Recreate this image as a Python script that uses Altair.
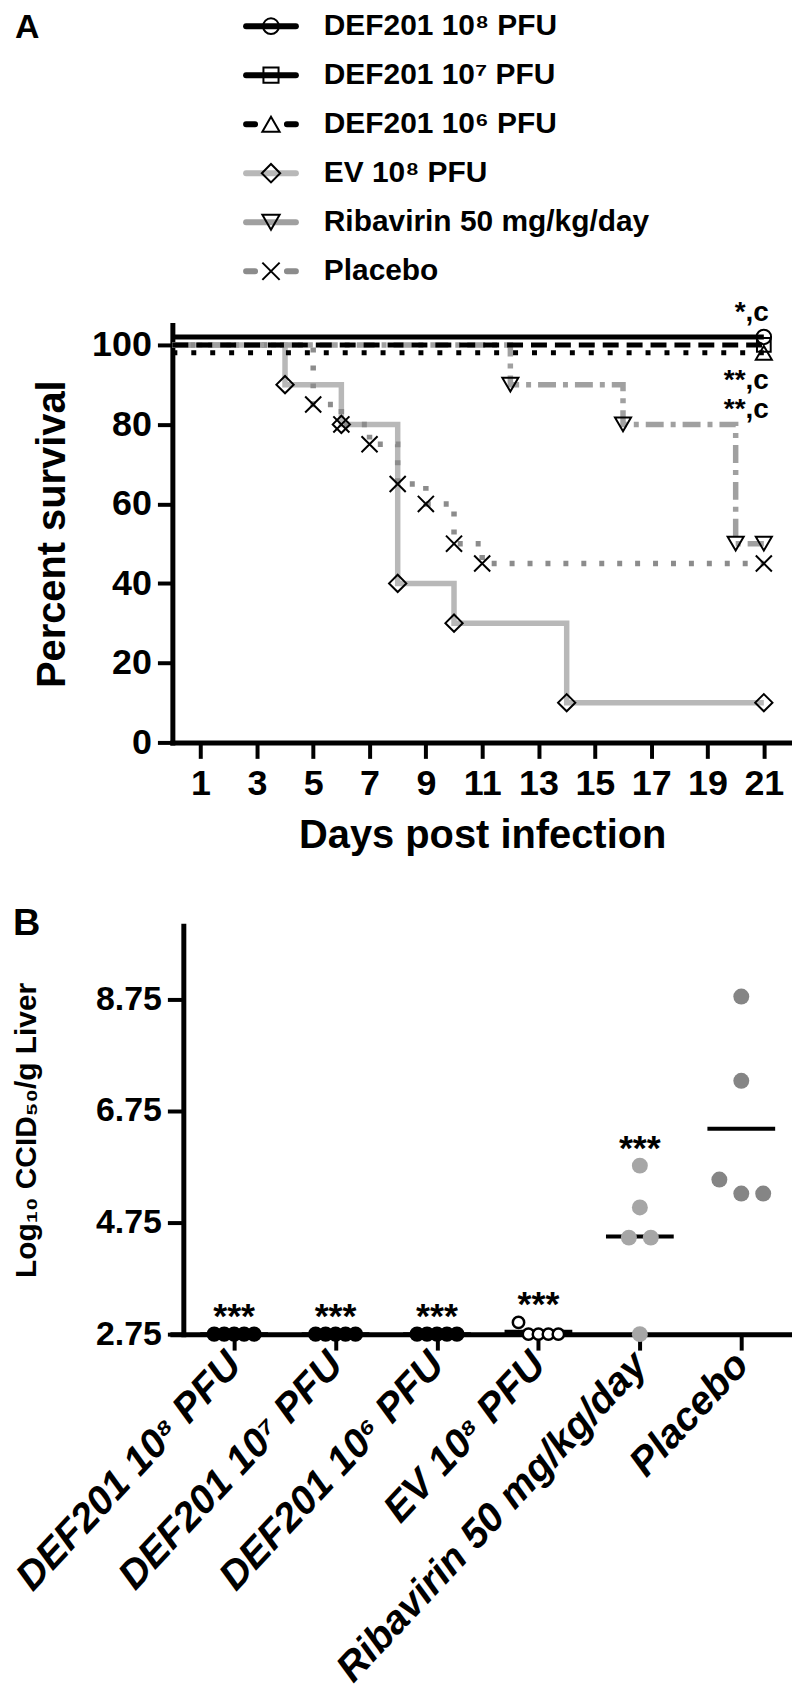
import altair as alt
import pandas as pd

FONT = "Liberation Sans, Arial, DejaVu Sans, sans-serif"

# ---------------- data: panel A (survival) ----------------
series_names = ["DEF201 10⁸ PFU", "DEF201 10⁷ PFU", "DEF201 10⁶ PFU",
                "EV 10⁸ PFU", "Ribavirin 50 mg/kg/day", "Placebo"]
def8_days = [0, 21]
def8_surv = [100, 100]
def7_days = [0, 21]
def7_surv = [100, 100]
def6_days = [0, 21]
def6_surv = [100, 100]
ev_days = [0, 4, 6, 8, 10, 14, 21]
ev_surv = [100, 90, 80, 40, 30, 10, 10]
rib_days = [0, 12, 16, 20, 21]
rib_surv = [100, 90, 80, 50, 50]
pla_days = [0, 5, 6, 7, 8, 9, 10, 11, 21]
pla_surv = [100, 85, 80, 75, 65, 60, 50, 45, 45]
day_ticks = [1, 3, 5, 7, 9, 11, 13, 15, 17, 19, 21]
surv_ticks = [0, 20, 40, 60, 80, 100]
sig_labels_a = ["*,c", "**,c", "**,c"]
panel_labels = ["A", "B"]

# ---------------- data: panel B (liver titers) ----------------
groups = series_names
liver_def8 = [2.75, 2.75, 2.75, 2.75, 2.75]
liver_def7 = [2.75, 2.75, 2.75, 2.75, 2.75]
liver_def6 = [2.75, 2.75, 2.75, 2.75, 2.75]
liver_ev = [2.96, 2.75, 2.75, 2.75, 2.75]
liver_rib = [5.77, 5.02, 4.48, 4.48, 2.75]
liver_pla = [8.80, 7.29, 5.52, 5.27, 5.27]
liver_ticks = [2.75, 4.75, 6.75, 8.75]
sig_labels_b = ["***", "***", "***", "***", "***", ""]

surv_days = [def8_days, def7_days, def6_days, ev_days, rib_days, pla_days]
surv_vals = [def8_surv, def7_surv, def6_surv, ev_surv, rib_surv, pla_surv]
liver_values = [liver_def8, liver_def7, liver_def6, liver_ev, liver_rib, liver_pla]

# ---------------- styles ----------------
XPATH = "M-1,-1L1,1M-1,1L1,-1"
A_STYLE = [
    dict(color="#000000", dash=None, yoff=-8, shape="circle", size=210, legdash=None, width=5),
    dict(color="#000000", dash=[16, 8], yoff=0, shape="square", size=190, legdash=None, width=5),
    dict(color="#000000", dash=[5, 14], yoff=8, shape="triangle-up", size=260, legdash=[9, 32, 9], width=5),
    dict(color="#b8b8b8", dash=None, yoff=0, shape="diamond", size=300, legdash=None, width=5.5),
    dict(color="#a0a0a0", dash=[18, 7, 5, 7], yoff=0, shape="triangle-down", size=260, legdash=None, width=5.5),
    dict(color="#8c8c8c", dash=[5, 13], yoff=0, shape=XPATH, size=260, legdash=[9, 32, 9], width=5.5),
]
B_STYLE = [
    dict(filled=True, color="#000000", size=240, sw=0),
    dict(filled=True, color="#000000", size=240, sw=0),
    dict(filled=True, color="#000000", size=240, sw=0),
    dict(filled=False, color="#000000", size=130, sw=2.5),
    dict(filled=True, color="#a6a6a6", size=256, sw=0),
    dict(filled=True, color="#858585", size=256, sw=0),
]

# ---------------- geometry ----------------
A_W, A_H = 622, 419
LEG_SPAN = 246          # distance between first and last legend row
GAP_LEG_A = 300         # legend first row -> panel A plot top
GAP_A_B = 184           # panel A plot bottom -> panel B plot top
LEG_H = GAP_LEG_A - GAP_A_B
B_W, B_H = 622, 410
B_DOM = [-0.609, 5.5]
PX_PER_UNIT = B_W / (B_DOM[1] - B_DOM[0])

# ---------------- frames ----------------
rows = []
for s, ds, vs in zip(series_names, surv_days, surv_vals):
    for d, v in zip(ds, vs):
        rows.append({"series": s, "day": d, "surv": v})
df_a = pd.DataFrame(rows)
df_pts = df_a[df_a["day"] > 0]


def swarm(vals, close=0.35):
    order = sorted(range(len(vals)), key=lambda i: -vals[i])
    clusters = []
    for i in order:
        if clusters and abs(vals[clusters[-1][0]] - vals[i]) <= close:
            clusters[-1].append(i)
        else:
            clusters.append([i])
    off = [0.0] * len(vals)
    for c in clusters:
        n = len(c)
        sp = 10 if n >= 4 else 22
        for k, i in enumerate(c):
            off[i] = (k - (n - 1) / 2) * sp
    return off


rows_b = []
for gi, (g, vals) in enumerate(zip(groups, liver_values)):
    for v, o in zip(vals, swarm(vals)):
        rows_b.append({"group": g, "idx": gi, "val": v, "xp": gi + o / PX_PER_UNIT})
df_b = pd.DataFrame(rows_b)
df_sig = pd.DataFrame({"idx": list(range(len(groups))), "sig": sig_labels_b,
                       "mx": [max(v) for v in liver_values]})
df_sig = df_sig[df_sig["sig"] != ""]

# ---------------- legend view ----------------
df_leg = pd.DataFrame({"name": series_names, "row": list(range(len(series_names)))})
y_leg = alt.Y("row:Q", scale=alt.Scale(domain=[0, 5], range=[0, LEG_SPAN]), axis=None)
leg_layers = []
for i, st in enumerate(A_STYLE):
    kw = dict(color=st["color"], strokeWidth=6, strokeCap="round")
    if st["legdash"]:
        kw["strokeDash"] = st["legdash"]
    leg_layers.append(
        alt.Chart(df_leg).transform_filter(alt.datum.row == i)
        .mark_rule(**kw)
        .encode(x=alt.value(74), x2=alt.value(124), y=y_leg)
    )
for i, st in enumerate(A_STYLE):
    leg_layers.append(
        alt.Chart(df_leg).transform_filter(alt.datum.row == i)
        .mark_point(shape=st["shape"], size=st["size"] + 40, filled=False, color="black",
                    strokeWidth=2, opacity=1)
        .encode(x=alt.value(99), y=y_leg)
    )
leg_layers.append(
    alt.Chart(df_leg).mark_text(align="left", baseline="middle", fontSize=30,
                                fontWeight="bold", color="black")
    .encode(x=alt.value(152), y=y_leg, text="name:N")
)
leg_layers.append(
    alt.Chart(pd.DataFrame({"t": [panel_labels[0]], "row": [0]}))
    .mark_text(align="left", baseline="middle", fontSize=34, fontWeight="bold",
               color="black", dx=2, dy=2)
    .encode(x=alt.value(-160), y=y_leg, text="t:N")
)
legend_view = alt.layer(*leg_layers).properties(width=A_W, height=LEG_H)

# ---------------- panel A ----------------
ax_x_a = alt.Axis(values=day_ticks, title="Days post infection", labelFontSize=36,
                  labelFontWeight="bold", titleFontSize=40, titleFontWeight="bold",
                  tickSize=16, tickWidth=4, domainWidth=5, labelPadding=8,
                  titleX=A_W / 2, titleY=93, titleBaseline="middle",
                  labelFlush=False, labelOverlap=False, grid=False, domainCap="square")
ax_y_a = alt.Axis(values=surv_ticks, title="Percent survival", labelFontSize=36,
                  labelFontWeight="bold", titleFontSize=40, titleFontWeight="bold",
                  tickSize=15, tickWidth=4, domainWidth=5, labelPadding=6,
                  titleX=-120, titleY=A_H / 2, titleBaseline="middle",
                  labelFlush=False, labelOverlap=False, grid=False, domainCap="square")
x_a = alt.X("day:Q", scale=alt.Scale(domain=[0, 22], nice=False, zero=False), axis=ax_x_a)
y_a = alt.Y("surv:Q", scale=alt.Scale(domain=[0, 105], nice=False), axis=ax_y_a)

a_layers = []
draw_order = [3, 5, 4, 2, 1, 0]
for i in draw_order:
    st = A_STYLE[i]
    kw = dict(interpolate="step-after", color=st["color"], strokeWidth=st["width"],
              strokeCap="butt", yOffset=st["yoff"])
    if st["dash"]:
        kw["strokeDash"] = st["dash"]
    a_layers.append(
        alt.Chart(df_a).transform_filter(alt.datum.series == series_names[i])
        .mark_line(**kw).encode(x=x_a, y=y_a)
    )
for i in draw_order:
    st = A_STYLE[i]
    a_layers.append(
        alt.Chart(df_pts).transform_filter(alt.datum.series == series_names[i])
        .mark_point(shape=st["shape"], size=st["size"], filled=False, color="black",
                    strokeWidth=2, opacity=1, yOffset=st["yoff"])
        .encode(x=x_a, y=y_a)
    )
sig_dy = [-24, 44, 73]
for i, (lab, dy) in enumerate(zip(sig_labels_a, sig_dy)):
    a_layers.append(
        alt.Chart(df_pts).transform_filter(
            (alt.datum.series == series_names[i]) & (alt.datum.day == 21))
        .transform_calculate(sig=f"'{lab}'")
        .mark_text(align="right", baseline="alphabetic", fontSize=28, fontWeight="bold",
                   color="black", dx=5, dy=dy)
        .encode(x=x_a, y=y_a, text="sig:N")
    )
panel_a = alt.layer(*a_layers).properties(width=A_W, height=A_H)

# ---------------- panel B ----------------
label_expr = "[" + ",".join("'" + g + "'" for g in groups) + "][datum.value]"
ax_x_b = alt.Axis(values=list(range(len(groups))), labelExpr=label_expr, title=None,
                  labelAngle=-47, labelAlign="right", labelBaseline="middle",
                  labelFontSize=40, labelFontWeight="bold", labelFontStyle="italic",
                  labelLimit=0, tickSize=16, tickWidth=4, domainWidth=5, labelPadding=8,
                  labelFlush=False, labelOverlap=False, grid=False, domainCap="square")
ax_y_b = alt.Axis(values=liver_ticks, format=".2f", title="Log₁₀ CCID₅₀/g Liver",
                  labelFontSize=34, labelFontWeight="bold", titleFontSize=30,
                  titleFontWeight="bold", tickSize=16, tickWidth=4, domainWidth=5,
                  labelPadding=6, offset=-11, titleX=-157, titleY=B_H / 2,
                  titleBaseline="middle", labelFlush=False, labelOverlap=False,
                  grid=False, domainCap="square")
xs_b = alt.Scale(domain=B_DOM, nice=False, zero=False)
ys_b = alt.Scale(domain=[2.75, 10.07], nice=False, zero=False)

b_layers = []
b_layers.append(
    alt.Chart(df_b).transform_aggregate(m="mean(val)", groupby=["idx"])
    .transform_calculate(xa="datum.idx - 0.334", xb="datum.idx + 0.334")
    .mark_rule(color="black", strokeWidth=4)
    .encode(x=alt.X("xa:Q", scale=xs_b, axis=ax_x_b), x2="xb:Q",
            y=alt.Y("m:Q", scale=ys_b, axis=ax_y_b))
)
for gi, st in enumerate(B_STYLE):
    kw = dict(shape="circle", size=st["size"], filled=st["filled"], color=st["color"],
              opacity=1)
    if not st["filled"]:
        kw["strokeWidth"] = st["sw"]
        kw["fill"] = "white"
    b_layers.append(
        alt.Chart(df_b).transform_filter(alt.datum.idx == gi)
        .mark_point(**kw)
        .encode(x=alt.X("xp:Q", scale=xs_b, axis=ax_x_b),
                y=alt.Y("val:Q", scale=ys_b, axis=ax_y_b))
    )
b_layers.append(
    alt.Chart(df_sig).mark_text(fontSize=36, fontWeight="bold", baseline="alphabetic",
                                color="black", dy=-6)
    .encode(x=alt.X("idx:Q", scale=xs_b, axis=ax_x_b),
            y=alt.Y("mx:Q", scale=ys_b, axis=ax_y_b), text="sig:N")
)
b_layers.append(
    alt.Chart(pd.DataFrame({"t": [panel_labels[1]]}))
    .mark_text(align="left", baseline="middle", fontSize=38, fontWeight="bold", color="black")
    .encode(x=alt.value(-160), y=alt.value(-2), text="t:N")
)
panel_b = alt.layer(*b_layers).properties(width=B_W, height=B_H)

chart = (
    alt.vconcat(legend_view, panel_a, panel_b, spacing=GAP_A_B, bounds="flush")
    .properties(padding=0)
    .configure(font=FONT)
    .configure_view(stroke=None)
    .configure_axis(domainColor="black", tickColor="black", labelColor="black",
                    titleColor="black", grid=False)
)
chart.save("out.html", embed_options={"renderer": "svg", "actions": False})
